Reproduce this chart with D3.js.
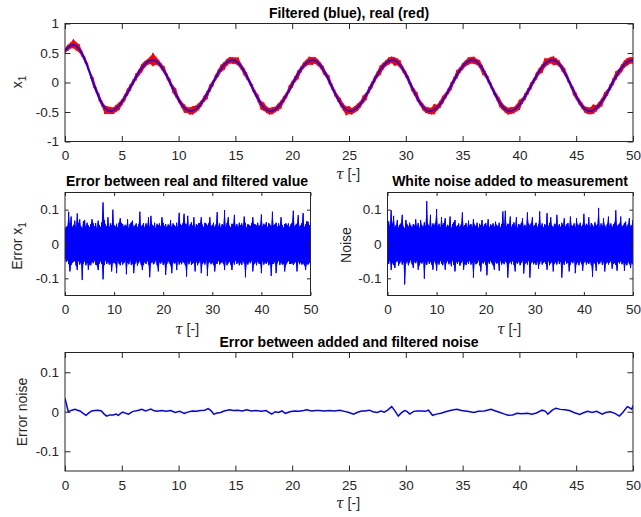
<!DOCTYPE html>
<html>
<head>
<meta charset="utf-8">
<script src="https://cdn.jsdelivr.net/npm/d3@7"></script>
<style>
  html, body { margin: 0; padding: 0; background: #fff; }
  svg text { font-family: "Liberation Sans", Arial, Helvetica, sans-serif; }
</style>
</head>
<body>
<svg id="fig" width="641" height="517"></svg>
<script>
// ---- data -------------------------------------------------------------
// sampling interval of the stored series (tau units)
const sampleStep = 0.25;
const sampleCount = 201;

const tauTicksTop = [0, 5, 10, 15, 20, 25, 30, 35, 40, 45, 50];
const tauTicksMid = [0, 10, 20, 30, 40, 50];
const x1Ticks = [-1, -0.5, 0, 0.5, 1];
const smallTicks = [-0.1, 0, 0.1];

// filtered state x1 at every sample
const x1Filtered = [
  0.540, 0.590, 0.625, 0.640, 0.621, 0.570, 0.489, 0.385, 0.263, 0.129,
 -0.007,-0.138,-0.257,-0.356,-0.430,-0.473,-0.485,-0.472,-0.442,-0.394,
 -0.332,-0.257,-0.174,-0.085, 0.005, 0.093, 0.174, 0.245, 0.304, 0.347,
  0.373, 0.380, 0.365, 0.327, 0.268, 0.192, 0.101, 0.002,-0.099,-0.198,
 -0.289,-0.367,-0.428,-0.468,-0.485,-0.479,-0.454,-0.410,-0.351,-0.278,
 -0.195,-0.106,-0.014, 0.076, 0.160, 0.235, 0.297, 0.343, 0.371, 0.380,
  0.367, 0.331, 0.274, 0.199, 0.110, 0.012,-0.089,-0.188,-0.280,-0.360,
 -0.422,-0.464,-0.484,-0.481,-0.458,-0.418,-0.361,-0.290,-0.210,-0.121,
 -0.031, 0.059, 0.144, 0.221, 0.285, 0.334, 0.366, 0.380, 0.372, 0.341,
  0.287, 0.215, 0.127, 0.029,-0.073,-0.174,-0.269,-0.351,-0.416,-0.462,
 -0.483,-0.482,-0.461,-0.422,-0.367,-0.299,-0.219,-0.132,-0.042, 0.048,
  0.134, 0.211, 0.277, 0.328, 0.363, 0.379, 0.375, 0.347, 0.296, 0.226,
  0.140, 0.042,-0.061,-0.163,-0.259,-0.343,-0.411,-0.458,-0.482,-0.482,
 -0.463,-0.426,-0.372,-0.304,-0.226,-0.139,-0.049, 0.041, 0.127, 0.205,
  0.272, 0.325, 0.361, 0.378, 0.376, 0.350, 0.301, 0.232, 0.147, 0.050,
 -0.053,-0.155,-0.252,-0.337,-0.406,-0.455,-0.481,-0.483,-0.466,-0.431,
 -0.379,-0.313,-0.237,-0.152,-0.063, 0.026, 0.112, 0.191, 0.259, 0.315,
  0.354, 0.376, 0.379, 0.358, 0.314, 0.249, 0.166, 0.071,-0.032,-0.135,
 -0.234,-0.322,-0.395,-0.449,-0.478,-0.484,-0.470,-0.437,-0.388,-0.324,
 -0.249,-0.165,-0.076, 0.014, 0.101, 0.181, 0.251, 0.309, 0.350, 0.374,
  0.380
];

// real minus filtered x1: upper / lower excursion within each sample interval
const errX1Hi = [
 .045,.050,.052,.094,.058,.080,.049,.055,.068,.047,.089,.060,.072,.051,.046,.066,.070,.050,.062,.054,
 .048,.058,.072,.060,.050,.061,.045,.068,.055,.049,.063,.121,.070,.057,.050,.078,.048,.060,.054,.100,
 .055,.050,.059,.047,.062,.075,.061,.058,.049,.056,.052,.072,.046,.058,.063,.068,.050,.054,.060,.048,
 .057,.094,.050,.055,.061,.047,.060,.053,.078,.049,.082,.056,.051,.062,.046,.059,.054,.060,.050,.078,
 .061,.052,.058,.048,.057,.053,.070,.049,.060,.055,.050,.062,.047,.091,.058,.054,.060,.088,.059,.056,
 .082,.049,.057,.063,.052,.078,.046,.058,.054,.061,.060,.078,.056,.048,.062,.059,.053,.060,.078,.051,
 .055,.062,.049,.057,.093,.052,.060,.047,.058,.054,.099,.050,.061,.078,.053,.048,.059,.056,.085,.051,
 .058,.049,.062,.054,.060,.050,.080,.061,.047,.058,.055,.052,.060,.078,.057,.057,.053,.062,.050,.056,
 .086,.051,.059,.054,.064,.048,.061,.056,.050,.094,.053,.057,.062,.049,.060,.052,.078,.055,.047,.058,
 .060,.053,.060,.048,.057,.062,.097,.051,.056,.059,.084,.050,.054,.061,.090,.049,.057,.066,.065,.055,
 .052
];
const errX1Lo = [
 -.040,-.052,-.047,-.058,-.080,-.061,-.055,-.052,-.049,-.063,-.076,-.048,-.060,-.053,-.105,-.057,-.050,-.062,-.054,-.075,
 -.059,-.062,-.051,-.056,-.048,-.060,-.062,-.076,-.057,-.050,-.058,-.103,-.061,-.047,-.058,-.052,-.060,-.056,-.080,-.056,
 -.053,-.058,-.085,-.048,-.057,-.062,-.051,-.060,-.055,-.049,-.088,-.054,-.059,-.047,-.061,-.056,-.085,-.058,-.050,-.063,
 -.055,-.049,-.060,-.076,-.061,-.052,-.058,-.048,-.060,-.097,-.056,-.051,-.059,-.056,-.047,-.062,-.080,-.053,-.057,-.050,
 -.061,-.055,-.090,-.058,-.049,-.056,-.062,-.085,-.051,-.057,-.054,-.076,-.048,-.060,-.053,-.059,-.050,-.055,-.062,-.095,
 -.052,-.059,-.048,-.061,-.057,-.054,-.080,-.050,-.062,-.055,-.049,-.085,-.058,-.053,-.060,-.047,-.093,-.056,-.051,-.059,
 -.054,-.061,-.080,-.058,-.057,-.048,-.060,-.055,-.052,-.058,-.076,-.049,-.062,-.056,-.051,-.060,-.076,-.053,-.060,-.047,
 -.058,-.052,-.062,-.055,-.061,-.049,-.057,-.097,-.056,-.060,-.051,-.056,-.048,-.080,-.059,-.053,-.062,-.050,-.057,-.058,
 -.085,-.049,-.060,-.053,-.058,-.051,-.062,-.056,-.093,-.057,-.058,-.050,-.085,-.056,-.048,-.061,-.053,-.060,-.057,-.080,
 -.060,-.054,-.049,-.058,-.058,-.055,-.061,-.056,-.052,-.080,-.050,-.059,-.054,-.060,-.056,-.062,-.076,-.058,-.060,-.055,
 -.058
];

// white measurement noise: upper / lower excursion within each sample interval
const noiseHi = [
 .072,.065,.052,.098,.058,.082,.049,.055,.070,.047,.056,.060,.085,.051,.046,.070,.057,.050,.062,.054,
 .048,.058,.053,.072,.050,.061,.045,.070,.055,.049,.063,.052,.125,.057,.050,.085,.048,.060,.054,.062,
 .102,.050,.059,.047,.078,.055,.061,.075,.049,.056,.052,.080,.046,.058,.063,.070,.050,.054,.060,.048,
 .057,.092,.050,.055,.061,.047,.068,.053,.058,.049,.072,.056,.051,.062,.046,.059,.054,.070,.050,.057,
 .061,.052,.072,.048,.057,.053,.060,.049,.065,.055,.050,.062,.047,.058,.095,.054,.097,.051,.059,.056,
 .080,.049,.057,.063,.052,.078,.046,.058,.054,.061,.075,.050,.056,.048,.092,.059,.053,.060,.078,.051,
 .055,.062,.049,.057,.095,.052,.060,.047,.058,.054,.090,.050,.061,.078,.053,.048,.059,.056,.085,.051,
 .058,.049,.062,.054,.075,.050,.057,.061,.047,.080,.055,.052,.060,.048,.075,.057,.053,.062,.050,.056,
 .088,.051,.059,.054,.078,.048,.061,.056,.050,.063,.053,.057,.105,.049,.060,.052,.075,.055,.047,.058,
 .080,.053,.060,.048,.057,.062,.098,.051,.056,.059,.080,.050,.054,.061,.065,.049,.057,.075,.052,.055,
 .070
];
const noiseLo = [
 -.050,-.058,-.047,-.076,-.055,-.061,-.070,-.052,-.049,-.063,-.056,-.048,-.060,-.053,-.118,-.057,-.050,-.062,-.054,-.046,
 -.059,-.070,-.051,-.056,-.048,-.075,-.062,-.053,-.057,-.050,-.101,-.055,-.061,-.047,-.058,-.052,-.060,-.075,-.049,-.056,
 -.078,-.053,-.060,-.048,-.057,-.062,-.051,-.075,-.055,-.049,-.059,-.054,-.065,-.047,-.061,-.080,-.052,-.058,-.050,-.063,
 -.055,-.049,-.075,-.057,-.061,-.052,-.058,-.048,-.060,-.054,-.098,-.051,-.059,-.056,-.047,-.062,-.080,-.053,-.057,-.050,
 -.061,-.091,-.052,-.058,-.049,-.056,-.062,-.075,-.051,-.057,-.054,-.078,-.048,-.060,-.053,-.059,-.050,-.055,-.098,-.057,
 -.052,-.059,-.048,-.061,-.080,-.054,-.057,-.050,-.062,-.055,-.049,-.086,-.058,-.053,-.060,-.047,-.098,-.056,-.051,-.059,
 -.054,-.061,-.050,-.072,-.057,-.048,-.060,-.055,-.052,-.058,-.075,-.049,-.062,-.056,-.051,-.080,-.057,-.053,-.060,-.047,
 -.058,-.052,-.098,-.055,-.061,-.049,-.057,-.054,-.080,-.060,-.051,-.056,-.048,-.085,-.059,-.053,-.062,-.050,-.057,-.078,
 -.055,-.049,-.060,-.053,-.058,-.051,-.062,-.096,-.054,-.057,-.078,-.050,-.059,-.056,-.048,-.061,-.053,-.080,-.057,-.052,
 -.060,-.054,-.049,-.072,-.058,-.055,-.061,-.078,-.052,-.057,-.050,-.059,-.054,-.078,-.056,-.062,-.051,-.058,-.070,-.055,
 -.060
];

// added minus filtered noise
const errNoiseTau = [
 0, 0.29, 0.6, 0.88, 1.1, 1.32, 1.6, 1.85, 2.1, 2.35, 2.6, 2.94, 3.2, 3.45, 3.67, 3.95, 4.25, 4.5, 4.7, 4.9,
 5.1, 5.35, 5.6, 5.8, 6.0, 6.4, 6.76, 7.1, 7.3, 7.56, 7.8, 8.1, 8.5, 8.9, 9.3, 9.7, 10.1, 10.5, 10.8, 11.2,
 11.6, 11.9, 12.3, 12.6, 12.85, 13.1, 13.4, 13.7, 14.0, 14.5, 14.8, 15.2, 15.6, 16.0, 16.4, 16.8, 17.3, 17.7, 18.2, 18.5,
 18.8, 19.1, 19.4, 19.8, 20.2, 20.6, 21.0, 21.3, 21.7, 22.1, 22.4, 22.8, 23.3, 23.7, 24.2, 24.6, 25.0, 25.4, 25.7, 26.1,
 26.4, 26.8, 27.1, 27.5, 27.8, 28.1, 28.4, 28.76, 28.95, 29.34, 29.6, 29.9, 30.1, 30.35, 30.7, 31.0, 31.4, 31.7, 32.0, 32.35,
 32.7, 33.1, 33.5, 34.0, 34.5, 34.9, 35.4, 36.0, 36.4, 36.9, 37.5, 37.9, 38.3, 38.7, 39.0, 39.4, 39.8, 40.2, 40.7, 41.1,
 41.5, 42.0, 42.3, 42.5, 42.9, 43.2, 43.6, 44.0, 44.4, 44.8, 45.3, 45.7, 46.0, 46.4, 46.8, 47.3, 47.6, 48.0, 48.4, 48.8,
 49.1, 49.5, 49.75, 49.9, 50.0
];
const errNoiseVal = [
 0.034, 0.000, 0.004, 0.006, 0.004, 0.002,-0.004,-0.009,-0.003, 0.002, 0.003, 0.004, 0.002,-0.006,-0.011,-0.008,-0.008,-0.006,-0.009,-0.004,
-0.001,-0.004,-0.006,-0.002, 0.001, 0.003, 0.006, 0.002, 0.004, 0.007, 0.003, 0.001, 0.003, 0.001, 0.003,-0.002, 0.001,-0.004,-0.001, 0.002,
 0.001, 0.003, 0.004, 0.008, 0.003,-0.006,-0.003,-0.002, 0.002, 0.005, 0.003, 0.004, 0.002, 0.005, 0.002, 0.003, 0.001, 0.003,-0.006, 0.000,
-0.002, 0.002,-0.004, 0.000, 0.002, 0.001, 0.003, 0.005, 0.002, 0.003, 0.003, 0.002, 0.003, 0.002, 0.004, 0.001,-0.002,-0.006,-0.002, 0.002,
 0.002, 0.004, 0.000,-0.002, 0.002,-0.001, 0.004, 0.013, 0.006,-0.011,-0.003, 0.003, 0.001,-0.006, 0.001, 0.002, 0.002, 0.001, 0.004,-0.009,
-0.006,-0.004, 0.000, 0.004, 0.006, 0.003, 0.001,-0.002, 0.001, 0.002, 0.006, 0.002,-0.002,-0.006,-0.009,-0.008,-0.004,-0.005,-0.004,-0.006,
-0.003, 0.004, 0.001,-0.006, 0.004, 0.009, 0.006, 0.005, 0.003,-0.002,-0.007,-0.002, 0.001,-0.002, 0.001,-0.006,-0.002, 0.000,-0.004,-0.011,
-0.002, 0.013, 0.009, 0.006, 0.016
];

// ---- drawing ----------------------------------------------------------
const tau = d3.range(sampleCount).map(i => i * sampleStep);
const svg = d3.select("#fig");
const AXIS = "#262626";
const BLUE = "#0000ff";
const RED = "#ff0000";
const fmt = d => String(d);

function makePanel(id, box, yDomain, xTicks, yTicks, tickLen) {
  const x = d3.scaleLinear().domain([0, 50]).range([box.left, box.right]);
  const y = d3.scaleLinear().domain(yDomain).range([box.bottom, box.top]);
  const g = svg.append("g");
  g.append("clipPath").attr("id", id)
    .append("rect")
    .attr("x", box.left).attr("y", box.top)
    .attr("width", box.right - box.left).attr("height", box.bottom - box.top);
  const plot = g.append("g").attr("clip-path", `url(#${id})`);
  const axes = g.append("g");
  return { x, y, g, plot, axes, box, xTicks, yTicks, tickLen };
}

function finishPanel(p) {
  const { x, y, axes, box, xTicks, yTicks, tickLen } = p;
  const style = sel => {
    sel.select(".domain").remove();
    sel.selectAll("line").attr("stroke", AXIS).attr("stroke-width", 1);
    sel.selectAll("text").attr("fill", AXIS).attr("font-size", 13.5);
  };
  axes.append("g").attr("transform", `translate(0,${box.bottom})`)
    .call(d3.axisBottom(x).tickValues(xTicks).tickFormat(fmt).tickSize(-tickLen).tickPadding(9))
    .call(style);
  axes.append("g").attr("transform", `translate(0,${box.top})`)
    .call(d3.axisTop(x).tickValues(xTicks).tickFormat("").tickSize(-tickLen))
    .call(style);
  axes.append("g").attr("transform", `translate(${box.left},0)`)
    .call(d3.axisLeft(y).tickValues(yTicks).tickFormat(fmt).tickSize(-tickLen).tickPadding(6))
    .call(style);
  axes.append("g").attr("transform", `translate(${box.right},0)`)
    .call(d3.axisRight(y).tickValues(yTicks).tickFormat("").tickSize(-tickLen))
    .call(style);
  axes.append("rect")
    .attr("x", box.left).attr("y", box.top)
    .attr("width", box.right - box.left).attr("height", box.bottom - box.top)
    .attr("fill", "none").attr("stroke", AXIS).attr("stroke-width", 1);
}

// dense signal: solid envelope plus a zig-zag through every sample's extremes
function drawDense(p, center, hi, lo, color) {
  const c = i => (center ? center[i] : 0);
  const area = d3.area()
    .x((d, i) => p.x(tau[i]))
    .y0((d, i) => p.y(c(i) + lo[i]))
    .y1((d, i) => p.y(c(i) + hi[i]));
  p.plot.append("path").datum(tau).attr("d", area)
    .attr("fill", color).attr("stroke", "none");
  const path = d3.path();
  tau.forEach((t, i) => {
    const X = p.x(t);
    if (i === 0) path.moveTo(X, p.y(c(i) + hi[i])); else path.lineTo(X, p.y(c(i) + hi[i]));
    path.lineTo(X, p.y(c(i) + lo[i]));
  });
  p.plot.append("path").attr("d", path.toString())
    .attr("fill", "none").attr("stroke", color).attr("stroke-width", 1);
}

function title(text, cx, baseline) {
  svg.append("text").attr("x", cx).attr("y", baseline)
    .attr("text-anchor", "middle").attr("font-size", 14).attr("font-weight", "bold")
    .attr("fill", "#000").text(text);
}

function tauLabel(cx, baseline) {
  const t = svg.append("text").attr("x", cx).attr("y", baseline)
    .attr("text-anchor", "middle").attr("font-size", 14).attr("fill", AXIS);
  t.append("tspan").attr("font-family", "'DejaVu Serif', 'Liberation Serif', serif")
    .attr("font-style", "italic").text("\u03c4");
  t.append("tspan").text(" [-]");
}

function yLabel(cx, cy, main, sub) {
  const t = svg.append("text")
    .attr("transform", `translate(${cx},${cy}) rotate(-90)`)
    .attr("text-anchor", "middle").attr("font-size", 14).attr("fill", AXIS);
  t.append("tspan").text(main);
  if (sub) t.append("tspan").attr("font-size", 10).attr("dy", 4).text(sub);
}

// top: filtered (blue) and real (red) x1
const pTop = makePanel("clipTop", { left: 65, right: 633, top: 23.5, bottom: 141.5 },
  [-1, 1], tauTicksTop, x1Ticks, 5.5);
drawDense(pTop, x1Filtered, errX1Hi, errX1Lo, RED);
pTop.plot.append("path")
  .datum(x1Filtered)
  .attr("d", d3.line().x((d, i) => pTop.x(tau[i])).y(d => pTop.y(d)))
  .attr("fill", "none").attr("stroke", BLUE).attr("stroke-width", 1.7);
finishPanel(pTop);
title("Filtered (blue), real (red)", 349, 17.5);
tauLabel(348, 179);
yLabel(22, 82, "x", "1");

// middle left: error between real and filtered x1
const pErr = makePanel("clipErr", { left: 65, right: 310.5, top: 192.5, bottom: 295.5 },
  [-0.15, 0.15], tauTicksMid, smallTicks, 3.5);
drawDense(pErr, null, errX1Hi, errX1Lo, BLUE);
finishPanel(pErr);
title("Error between real and filtered value", 187, 186);
tauLabel(187, 334);
yLabel(22, 246, "Error x", "1");

// middle right: added white noise
const pNoise = makePanel("clipNoise", { left: 387.5, right: 633, top: 192.5, bottom: 295.5 },
  [-0.15, 0.15], tauTicksMid, smallTicks, 3.5);
drawDense(pNoise, null, noiseHi, noiseLo, BLUE);
finishPanel(pNoise);
title("White noise added to measurement", 510, 186);
tauLabel(509, 334);
yLabel(351, 245, "Noise");

// bottom: error between added and filtered noise
const pEN = makePanel("clipEN", { left: 65, right: 633, top: 352.5, bottom: 471 },
  [-0.15, 0.15], tauTicksTop, smallTicks, 5.5);
pEN.plot.append("path")
  .datum(errNoiseVal)
  .attr("d", d3.line().x((d, i) => pEN.x(errNoiseTau[i])).y(d => pEN.y(d)))
  .attr("fill", "none").attr("stroke", BLUE).attr("stroke-width", 1.5);
finishPanel(pEN);
title("Error between added and filtered noise", 349, 347);
tauLabel(348, 508);
yLabel(27, 412, "Error noise");
</script>
</body>
</html>
